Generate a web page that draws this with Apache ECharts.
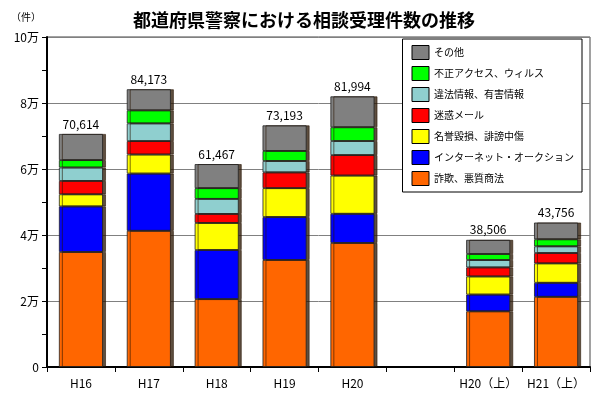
<!DOCTYPE html>
<html><head><meta charset="utf-8">
<script src="https://cdn.jsdelivr.net/npm/echarts@6/dist/echarts.min.js"></script>
<style>html,body{margin:0;padding:0;background:#fff}#c{width:598px;height:393px}</style>
</head><body><div id="c"></div>
<script>
const categories = ['H16','H17','H18','H19','H20','','H20（上）','H21（上）'];
const fraud        = [34850, 41270, 20560, 32440, 37590, null, 16870, 21270];
const auction      = [13820, 17340, 14890, 13010,  8840, null,  5080,  4250];
const defamation   = [ 3660,  5780,  8200,  8740, 11580, null,  5490,  5880];
const spam         = [ 4060,  4060,  2740,  4780,  6200, null,  2740,  3140];
const illegal      = [ 4060,  5370,  4560,  3460,  4270, null,  2240,  2030];
const unauthorized = [ 2240,  3950,  3240,  3050,  4170, null,  1830,  2130];
const other        = [ 7920,  6390,  7290,  7730,  9350, null,  4270,  5060];
const totals       = [70614, 84173, 61467, 73193, 81994, null, 38506, 43756];
const yTicks = [0, 20000, 40000, 60000, 80000, 100000];
const yTickLabels = ['0','2万','4万','6万','8万','10万'];

const FONT = '"Noto Sans CJK JP", "Noto Sans", sans-serif';
const defs = [
  ['詐欺、悪質商法', fraud, '#FF6600'],
  ['インターネット・オークション', auction, '#0000FF'],
  ['名誉毀損、誹謗中傷', defamation, '#FFFF00'],
  ['迷惑メール', spam, '#FF0000'],
  ['違法情報、有害情報', illegal, '#8FCFCF'],
  ['不正アクセス、ウィルス', unauthorized, '#00FF00'],
  ['その他', other, '#808080']
];
const series = defs.map((d, i) => ({
  name: d[0], type: 'bar', stack: 'total', data: d[1], barWidth: 44,
  itemStyle: { color: d[2], borderColor: '#222', borderWidth: 0.8,
    shadowColor: 'rgba(40,20,0,0.75)', shadowOffsetX: 3, shadowOffsetY: 0, shadowBlur: 0 },
  label: i === defs.length - 1 ? {
    show: true, position: 'top', distance: 4, color: '#000', fontSize: 12, fontFamily: FONT,
    formatter: p => totals[p.dataIndex] == null ? '' : totals[p.dataIndex].toLocaleString('en-US')
  } : { show: false }
}));

const chart = echarts.init(document.getElementById('c'));
chart.setOption({
  animation: false,
  backgroundColor: '#fff',
  textStyle: { fontFamily: FONT },
  title: [
    { text: '都道府県警察における相談受理件数の推移', left: 299, textAlign: 'center', top: 6,
      textStyle: { fontSize: 18, fontWeight: 'bold', color: '#000', fontFamily: FONT } },
    { text: '（件）', left: 6, top: 7, textStyle: { fontSize: 10, fontWeight: 'normal', color: '#000', fontFamily: FONT } }
  ],
  legend: {
    data: defs.map(d => d[0]).reverse(),
    orient: 'vertical', right: 16, top: 39, icon: 'rect',
    backgroundColor: '#fff', borderColor: '#000', borderWidth: 1,
    padding: [6, 8, 6, 9], itemWidth: 17, itemHeight: 14, itemGap: 6,
    textStyle: { fontSize: 10, color: '#000', fontFamily: FONT },
    itemStyle: { borderColor: '#000', borderWidth: 1, shadowOffsetX: 0, shadowColor: 'transparent' }
  },
  grid: { left: 47, right: 8, top: 37, bottom: 26, show: true, borderColor: '#444', borderWidth: 1 },
  xAxis: {
    type: 'category', data: categories,
    axisLine: { lineStyle: { color: '#000', width: 2 } },
    axisTick: { show: true, length: 5, lineStyle: { color: '#000' } },
    axisLabel: { interval: 0, fontSize: 12, color: '#000', fontFamily: FONT, margin: 10 }
  },
  yAxis: {
    type: 'value', min: yTicks[0], max: yTicks[yTicks.length - 1], interval: 20000,
    axisLine: { show: true, lineStyle: { color: '#000', width: 2 } },
    axisTick: { show: true, length: 5, lineStyle: { color: '#000' } },
    minorTick: { show: true, splitNumber: 2, length: 5, lineStyle: { color: '#000' } },
    splitLine: { lineStyle: { color: '#808080', width: 1 } },
    axisLabel: { fontSize: 12, color: '#000', fontFamily: FONT,
      formatter: v => { const k = yTicks.indexOf(v); return k >= 0 ? yTickLabels[k] : ''; } }
  },
  series
});
</script></body></html>
